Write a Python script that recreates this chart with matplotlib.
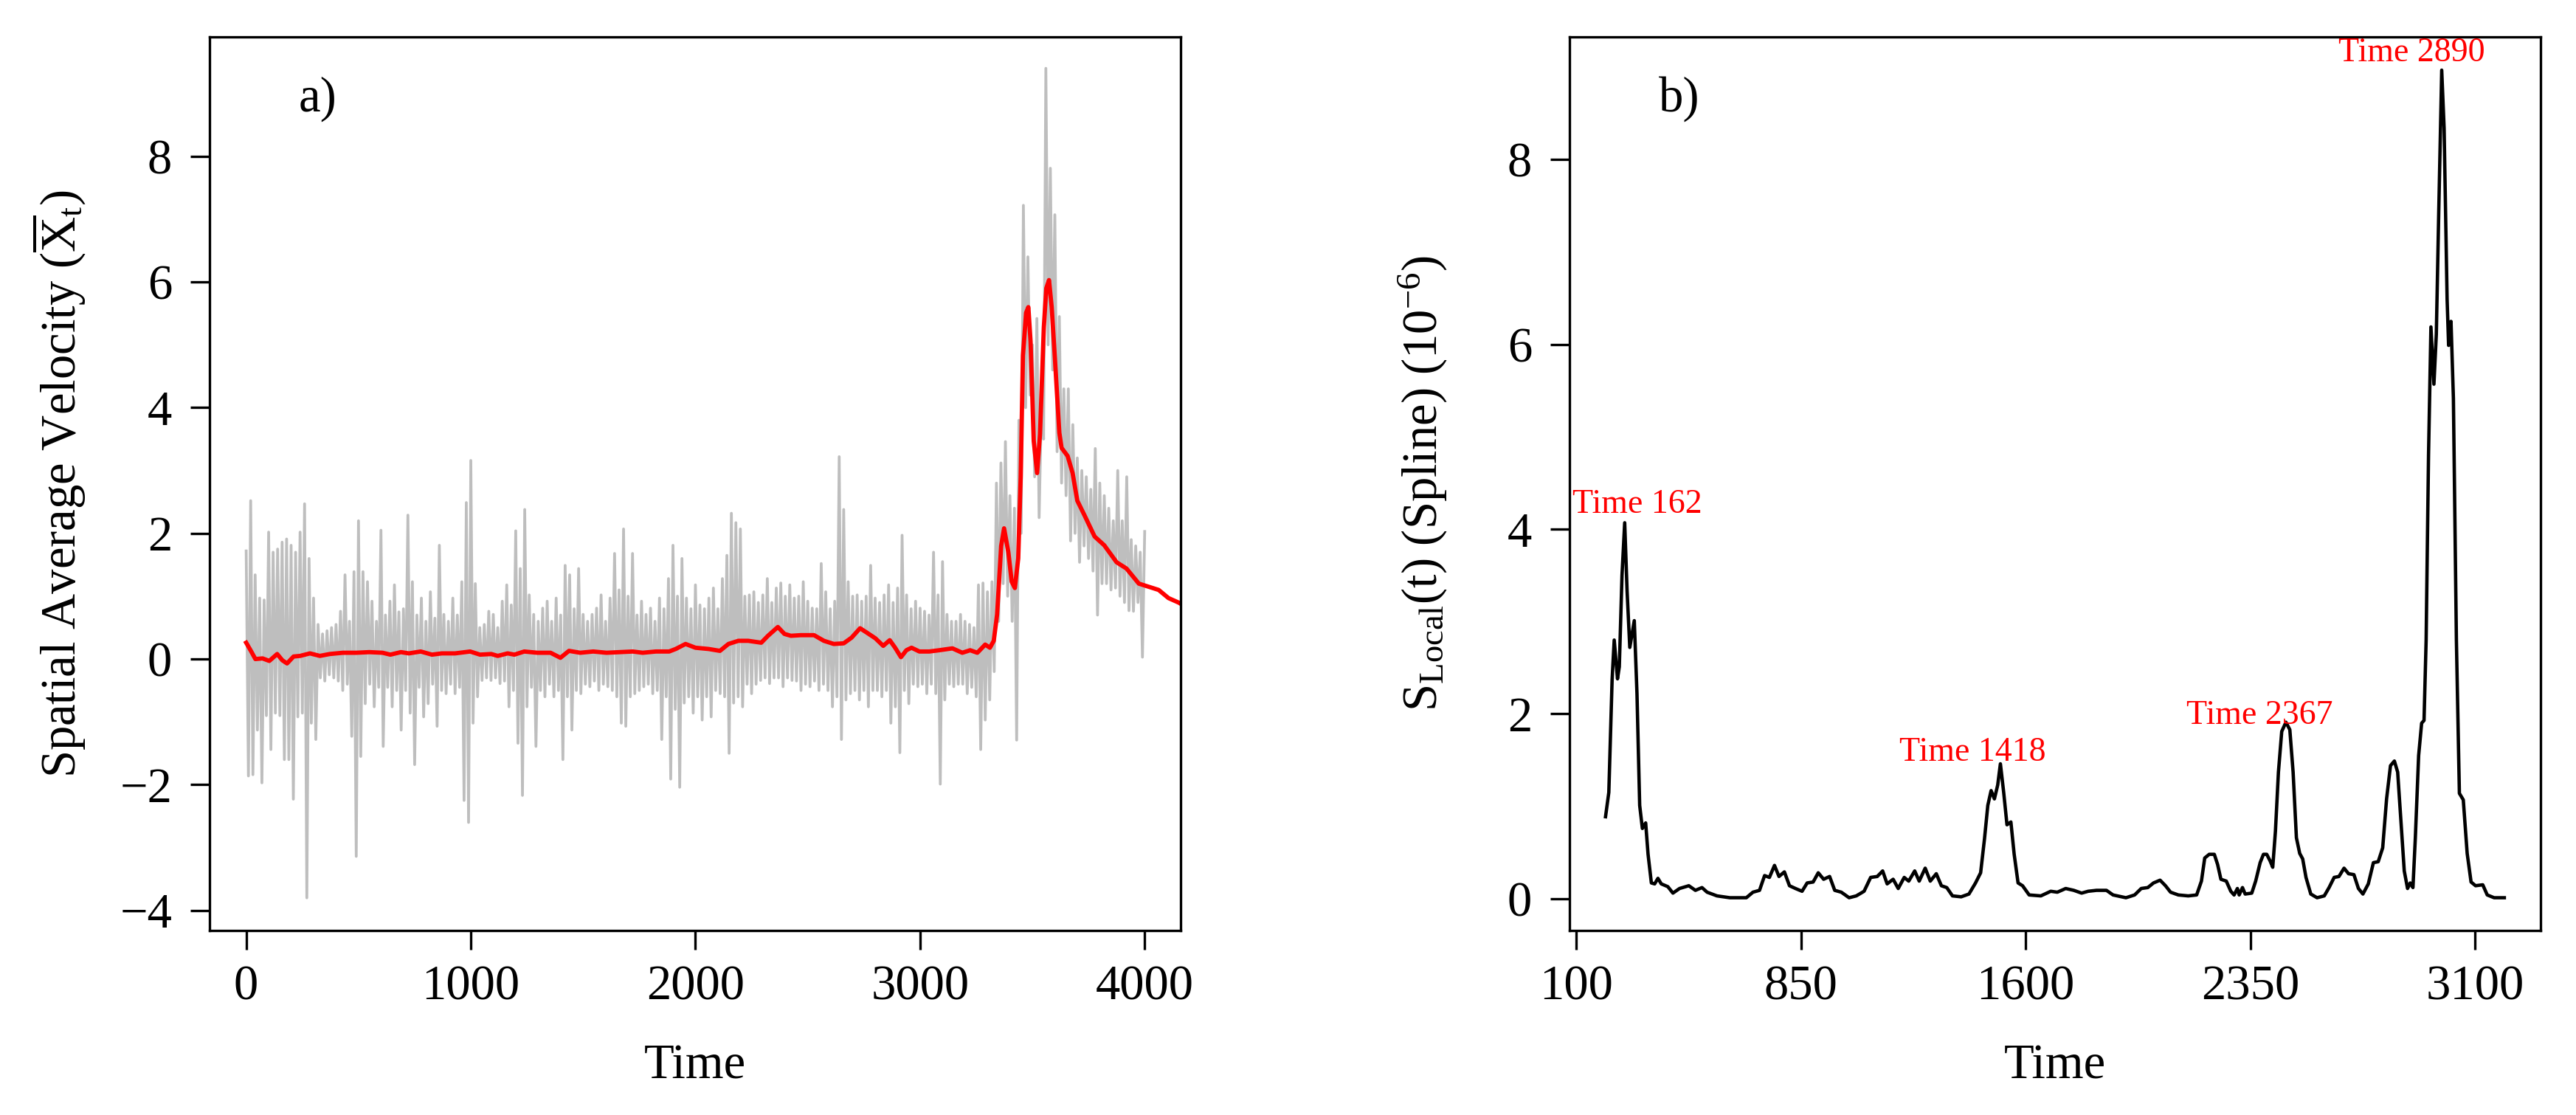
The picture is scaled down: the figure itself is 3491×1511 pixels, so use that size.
import numpy as np
import matplotlib
matplotlib.use("Agg")
import matplotlib.pyplot as plt

plt.rcParams['font.family'] = ['Liberation Serif', 'DejaVu Serif']
plt.rcParams['mathtext.fontset'] = 'custom'
plt.rcParams['mathtext.rm'] = 'Liberation Serif'
plt.rcParams['mathtext.it'] = 'Liberation Serif:italic'
plt.rcParams['axes.unicode_minus'] = True

# ---------------- Panel a data ----------------
grey_time = np.arange(0, 4001, 10)
grey_values = [
    1.72, -1.86, 2.52, -1.84, 1.34, -1.13, 0.97, -1.97, 0.94, -0.90,
    2.02, -1.44, 1.70, -0.86, 1.75, -0.90, 1.86, -1.60, 1.91, -1.60,
    1.81, -2.23, 1.70, -0.92, 2.02, -0.86, 2.47, -3.80, 1.60, -1.02,
    0.97, -1.28, 0.55, -0.30, 0.40, -0.35, 0.45, -0.25, 0.50, -0.30,
    0.55, -0.35, 0.76, -0.50, 1.34, -0.40, 0.60, -1.23, 1.39, -3.14,
    2.20, -1.55, 1.39, -0.71, 1.23, -0.40, 0.92, -0.76, 0.60, -0.45,
    2.05, -1.39, 0.70, -0.45, 0.92, -0.76, 1.18, -0.50, 0.75, -1.13,
    0.80, -0.50, 2.29, -0.86, 1.23, -1.68, 0.70, -0.45, 0.97, -0.92,
    0.60, -0.71, 1.07, -0.40, 0.65, -1.07, 1.81, -0.50, 0.71, -0.55,
    0.60, -0.40, 0.97, -0.55, 0.70, -0.45, 1.23, -2.25, 2.49, -2.60,
    3.16, -1.02, 1.20, -0.60, 0.50, -0.34, 0.55, -0.30, 0.76, -0.34,
    0.71, -0.30, 0.50, -0.39, 0.92, -0.35, 1.18, -0.76, 0.86, -0.50,
    2.04, -1.34, 1.44, -2.17, 2.38, -0.76, 1.02, -0.45, 0.71, -1.39,
    0.60, -0.50, 0.81, -0.60, 0.92, -0.40, 0.60, -0.60, 0.97, -0.50,
    0.70, -1.60, 1.49, -0.60, 1.34, -1.13, 0.80, -0.50, 1.44, -0.55,
    0.71, -0.40, 0.60, -0.44, 0.71, -0.35, 0.81, -0.50, 1.02, -0.40,
    0.60, -0.44, 0.97, -0.50, 1.68, -0.60, 1.10, -1.02, 2.07, -1.07,
    1.00, -0.60, 1.68, -0.55, 0.70, -0.50, 0.92, -0.44, 0.71, -0.40,
    0.81, -0.55, 0.60, -0.50, 0.97, -1.28, 0.80, -0.60, 1.28, -1.91,
    1.81, -0.80, 1.00, -2.04, 1.60, -0.70, 0.97, -0.60, 0.80, -0.86,
    1.18, -0.60, 0.86, -0.97, 0.80, -0.60, 0.97, -0.92, 1.13, -0.50,
    0.80, -0.55, 1.28, -0.60, 1.65, -1.50, 2.32, -0.70, 2.17, -0.60,
    2.07, -0.76, 1.00, -0.40, 1.02, -0.55, 1.07, -0.40, 0.90, -0.34,
    1.02, -0.30, 1.28, -0.39, 0.90, -0.30, 1.13, -0.30, 1.21, -0.44,
    1.00, -0.30, 1.18, -0.34, 0.97, -0.35, 1.00, -0.50, 1.23, -0.40,
    0.92, -0.44, 0.81, -0.35, 0.80, -0.50, 1.52, -0.40, 1.07, -0.50,
    0.80, -0.76, 0.92, -0.60, 3.22, -1.28, 2.38, -0.65, 1.23, -0.55,
    1.00, -0.50, 1.02, -0.65, 0.92, -0.50, 1.00, -0.76, 1.49, -0.50,
    0.97, -0.50, 0.90, -0.60, 1.02, -0.50, 1.18, -1.02, 0.90, -0.76,
    1.13, -1.49, 1.97, -0.50, 1.02, -0.71, 0.80, -0.40, 0.92, -0.44,
    0.81, -0.40, 0.76, -0.55, 0.70, -0.40, 1.70, -0.55, 1.02, -1.99,
    1.55, -0.65, 0.71, -0.40, 0.60, -0.44, 0.60, -0.40, 0.71, -0.40,
    0.60, -0.55, 0.55, -0.45, 0.50, -0.60, 1.18, -1.44, 1.21, -0.97,
    1.07, -0.65, 1.23, -0.20, 2.80, 0.60, 3.12, 1.20, 3.46, 1.00,
    2.60, 0.60, 2.40, -1.29, 3.80, 2.00, 7.22, 4.00, 6.40, 4.20,
    5.00, 2.90, 5.42, 2.25, 4.00, 3.50, 9.40, 5.00, 7.81, 4.60,
    7.07, 3.30, 5.45, 2.80, 4.30, 2.60, 4.30, 1.88, 3.73, 2.00,
    3.20, 1.54, 3.00, 1.80, 2.90, 1.60, 2.70, 1.40, 3.35, 0.70,
    2.80, 1.20, 2.60, 1.20, 2.40, 1.10, 2.20, 1.13, 3.00, 1.00,
    2.20, 0.90, 2.90, 0.77, 1.90, 0.76, 1.80, 0.90, 1.70, 0.03,
    2.03,
]

red_time = [0, 21, 41, 73, 103, 138, 161, 182, 211, 240, 284, 328, 372, 431, 490,
            548, 607, 642, 689, 724, 777, 827, 871, 930, 997, 1041, 1091, 1120,
            1164, 1194, 1238, 1296, 1355, 1399, 1437, 1487, 1545, 1604, 1663, 1721,
            1765, 1824, 1883, 1912, 1956, 2000, 2059, 2109, 2147, 2191, 2235, 2293,
            2323, 2367, 2396, 2425, 2469, 2528, 2572, 2616, 2660, 2695, 2733, 2763,
            2801, 2836, 2865, 2889, 2915, 2939, 2962, 2997, 3041, 3085, 3144, 3188,
            3223, 3255, 3290, 3311, 3328, 3343, 3361, 3374, 3393, 3408, 3422, 3437,
            3448, 3458, 3472, 3482, 3492, 3506, 3521, 3534, 3551, 3562, 3574, 3586,
            3600, 3610, 3620, 3630, 3657, 3679, 3700, 3733, 3777, 3820, 3875, 3919,
            3974, 4018, 4062, 4106, 4150, 4160]
red_values = [0.26, 0.13, 0.00, 0.01, -0.03, 0.08, -0.02, -0.07, 0.04, 0.05, 0.09, 0.05,
              0.08, 0.10, 0.10, 0.11, 0.10, 0.07, 0.11, 0.09, 0.12, 0.07, 0.09, 0.09,
              0.12, 0.07, 0.08, 0.05, 0.09, 0.07, 0.12, 0.10, 0.10, 0.02, 0.13, 0.10,
              0.12, 0.10, 0.11, 0.12, 0.10, 0.12, 0.12, 0.16, 0.24, 0.18, 0.16, 0.13,
              0.24, 0.29, 0.29, 0.26, 0.37, 0.51, 0.40, 0.37, 0.38, 0.38, 0.29, 0.24,
              0.25, 0.34, 0.49, 0.42, 0.33, 0.21, 0.30, 0.18, 0.03, 0.14, 0.18, 0.12,
              0.12, 0.14, 0.17, 0.10, 0.14, 0.10, 0.23, 0.18, 0.29, 0.71, 1.80, 2.08,
              1.70, 1.23, 1.13, 1.60, 2.90, 4.83, 5.51, 5.60, 5.05, 3.47, 2.96, 3.58,
              5.28, 5.90, 6.03, 5.60, 4.80, 4.20, 3.60, 3.36, 3.23, 2.96, 2.52, 2.28,
              1.95, 1.81, 1.54, 1.44, 1.20, 1.15, 1.10, 0.97, 0.90, 0.88]

# ---------------- Panel b data ----------------
b_time = [198, 209, 220, 227, 238, 244, 253, 262, 270, 279,
          294, 303, 312, 321, 332, 340, 351, 362, 373, 384,
          406, 423, 445, 476, 498, 520, 537, 570, 613, 668,
          690, 712, 729, 745, 762, 777, 795, 812, 832, 854,
          871, 891, 908, 926, 946, 963, 985, 1011, 1035, 1061,
          1083, 1105, 1123, 1138, 1158, 1175, 1195, 1210, 1230, 1245,
          1265, 1282, 1302, 1319, 1337, 1356, 1385, 1411, 1433, 1450,
          1463, 1474, 1485, 1496, 1507, 1516, 1527, 1538, 1551, 1562,
          1575, 1590, 1612, 1651, 1684, 1706, 1734, 1761, 1787, 1809,
          1837, 1870, 1892, 1935, 1964, 1986, 2008, 2027, 2049, 2067,
          2084, 2110, 2143, 2171, 2187, 2198, 2213, 2230, 2241, 2252,
          2270, 2285, 2296, 2307, 2313, 2324, 2333, 2355, 2368, 2383,
          2394, 2405, 2416, 2425, 2434, 2444, 2455, 2469, 2482, 2493,
          2504, 2515, 2525, 2536, 2552, 2573, 2597, 2613, 2630, 2646,
          2663, 2678, 2696, 2711, 2726, 2744, 2761, 2777, 2792, 2805,
          2818, 2831, 2842, 2853, 2864, 2875, 2884, 2893, 2901, 2912,
          2922, 2930, 2937, 2945, 2953, 2963, 2971, 2979, 2989, 2997,
          3007, 3012, 3020, 3028, 3038, 3048, 3061, 3074, 3087, 3102,
          3126, 3141, 3164, 3198]
b_values = [0.887, 1.15, 2.37, 2.8, 2.38, 2.51, 3.5, 4.07, 3.33, 2.72,
            3.01, 2.22, 1.01, 0.76, 0.82, 0.48, 0.17, 0.16, 0.22, 0.16,
            0.13, 0.06, 0.11, 0.14, 0.09, 0.12, 0.07, 0.03, 0.01, 0.01,
            0.07, 0.09, 0.25, 0.23, 0.36, 0.24, 0.29, 0.14, 0.11, 0.08,
            0.17, 0.18, 0.28, 0.21, 0.24, 0.09, 0.07, 0.01, 0.03, 0.08,
            0.23, 0.24, 0.30, 0.16, 0.21, 0.11, 0.23, 0.19, 0.30, 0.19,
            0.33, 0.19, 0.27, 0.14, 0.12, 0.03, 0.02, 0.05, 0.17, 0.28,
            0.65, 1.01, 1.17, 1.08, 1.23, 1.46, 1.15, 0.80, 0.83, 0.48,
            0.17, 0.14, 0.04, 0.03, 0.08, 0.07, 0.11, 0.09, 0.06, 0.08,
            0.09, 0.09, 0.04, 0.01, 0.04, 0.11, 0.12, 0.17, 0.20, 0.14,
            0.07, 0.04, 0.03, 0.04, 0.19, 0.44, 0.48, 0.48, 0.37, 0.21,
            0.19, 0.08, 0.04, 0.11, 0.04, 0.12, 0.05, 0.06, 0.19, 0.39,
            0.48, 0.48, 0.41, 0.34, 0.73, 1.37, 1.81, 1.91, 1.83, 1.37,
            0.66, 0.49, 0.43, 0.23, 0.05, 0.01, 0.03, 0.12, 0.23, 0.24,
            0.33, 0.27, 0.26, 0.11, 0.05, 0.16, 0.39, 0.40, 0.55, 1.08,
            1.44, 1.49, 1.37, 0.83, 0.30, 0.11, 0.17, 0.12, 0.66, 1.55,
            1.90, 1.93, 2.80, 4.80, 6.19, 5.57, 6.11, 7.42, 8.97, 8.34,
            6.49, 5.99, 6.25, 5.42, 2.80, 1.14, 1.07, 0.49, 0.18, 0.14,
            0.15, 0.04, 0.01, 0.01]

annot_labels = ["Time 162", "Time 1418", "Time 2367", "Time 2890"]
annot_x = [305, 1424, 2382, 2888]
annot_y = [4.18, 1.49, 1.89, 9.07]

a_xticks = [0, 1000, 2000, 3000, 4000]
a_yticks = [-4, -2, 0, 2, 4, 6, 8]
b_xticks = [100, 850, 1600, 2350, 3100]
b_yticks = [0, 2, 4, 6, 8]

# ---------------- Figure ----------------
W, H = 3491, 1511
DPI = 300
fig = plt.figure(figsize=(W / DPI, H / DPI), dpi=DPI)
FS = 16

def frame(ax):
    for s in ax.spines.values():
        s.set_linewidth(0.8)
        s.set_color('black')
    ax.tick_params(axis='both', which='both', direction='out', length=6.2, width=0.8,
                   labelsize=FS, top=False, right=False, pad=6)
    ax.tick_params(axis='x', pad=5)

ax1 = fig.add_axes([284 / W, 1 - 1261 / H, 1316 / W, 1211 / H])
ax1.plot(grey_time, grey_values, color='#BEBEBE', lw=0.9, zorder=1)
ax1.plot(red_time, red_values, color='red', lw=1.4, zorder=2)
ax1.set_xlim(-163, 4160)
ax1.set_ylim(-4.32, 9.90)
ax1.set_xticks(a_xticks)
ax1.set_yticks(a_yticks)
frame(ax1)
ax1.set_xlabel('Time', fontsize=FS, labelpad=11)
ax1.set_ylabel(r'Spatial Average Velocity ($\overline{\mathrm{X}}_{\mathrm{t}}$)', fontsize=FS, labelpad=10.5)
ax1.text(0.092, 0.917, 'a)', transform=ax1.transAxes, fontsize=FS, ha='left', va='baseline')

ax2 = fig.add_axes([2127 / W, 1 - 1261 / H, 1316 / W, 1211 / H])
ax2.plot(b_time, b_values, color='black', lw=1.1)
ax2.set_xlim(77.8, 3319)
ax2.set_ylim(-0.345, 9.33)
ax2.set_xticks(b_xticks)
ax2.set_yticks(b_yticks)
frame(ax2)
ax2.set_xlabel('Time', fontsize=FS, labelpad=11)
ax2.set_ylabel(r'S$_{\mathrm{Local}}$(t) (Spline) (10$^{-6}$)', fontsize=FS, labelpad=19)
ax2.text(0.092, 0.917, 'b)', transform=ax2.transAxes, fontsize=FS, ha='left', va='baseline')
for lab, x, y in zip(annot_labels, annot_x, annot_y):
    ax2.text(x, y, lab, color='red', fontsize=11, ha='center', va='baseline')

fig.savefig('out.png', dpi=DPI)
